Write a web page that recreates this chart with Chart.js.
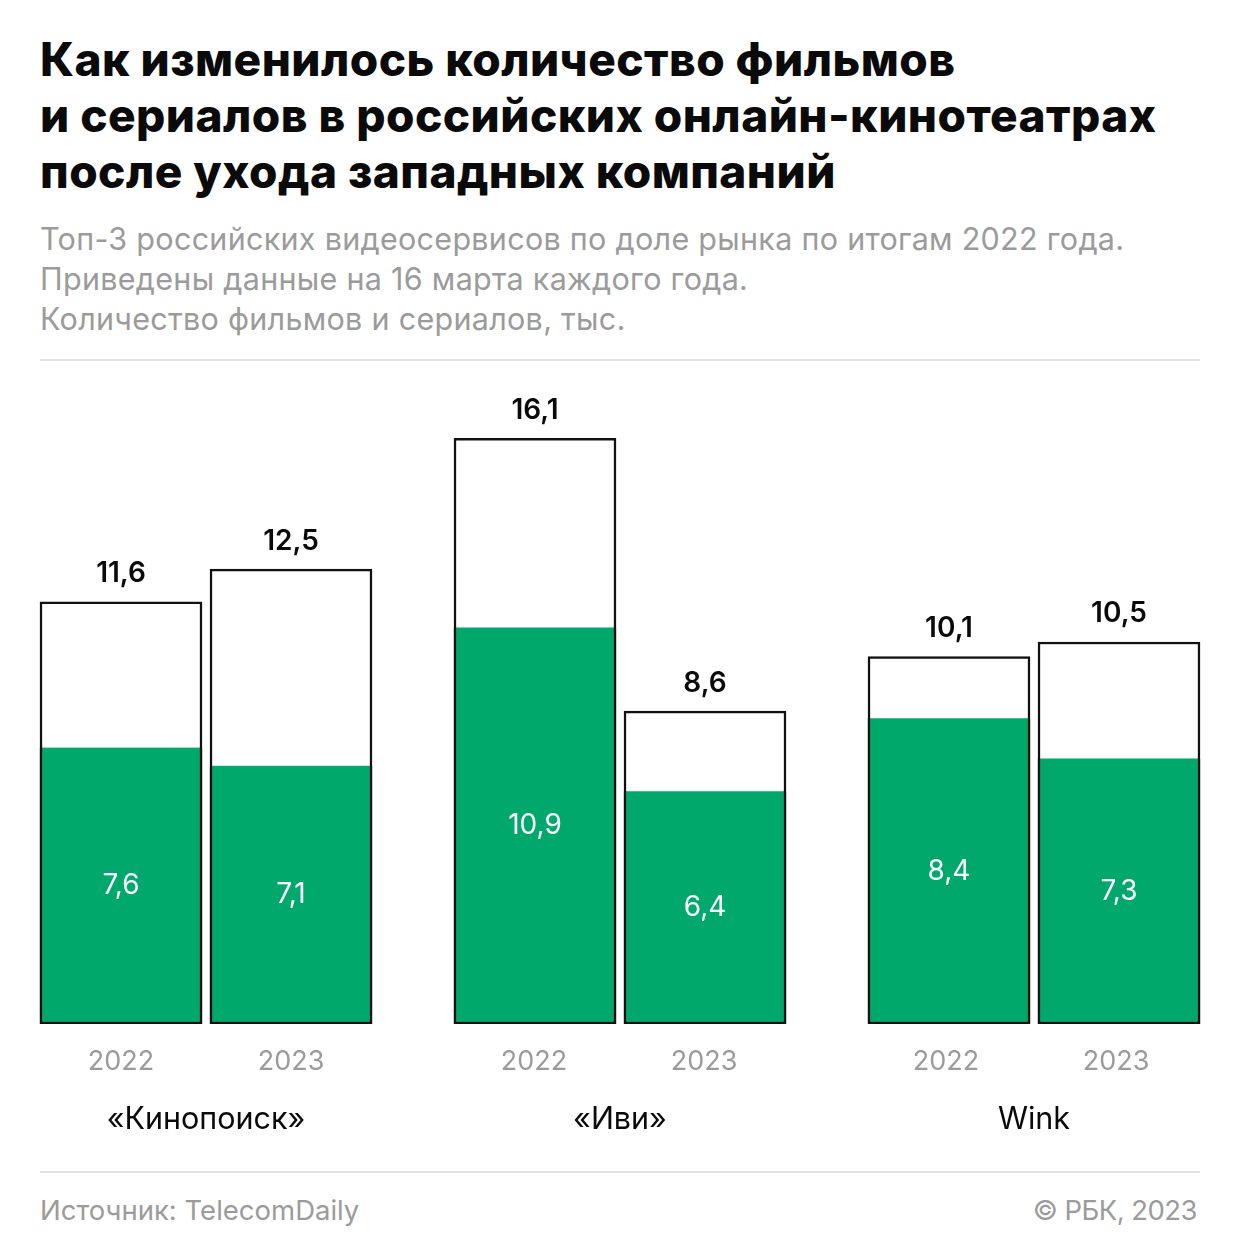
<!DOCTYPE html>
<html lang="ru">
<head>
<meta charset="utf-8">
<title>Онлайн-кинотеатры</title>
<script src="https://cdn.jsdelivr.net/npm/chart.js@4"></script>
<style>
    html, body { margin: 0; padding: 0; background: #fff; }
    body { position: relative; width: 1240px; height: 1260px; overflow: hidden; font-family: Inter, sans-serif; }
    h1 { position: absolute; left: 40px; top: 31px; margin: 0; font-size: 46px; line-height: 56px; font-weight: 800; color: #0a0a0a; letter-spacing: 0.45px; white-space: nowrap; }
    .sub { position: absolute; left: 40px; top: 219px; font-size: 30.5px; line-height: 40px; color: #9b9b9b; font-weight: 400; letter-spacing: 0.29px; white-space: nowrap; }
    .rule { position: absolute; left: 40px; width: 1160px; height: 2px; background: #e3e3e3; }
    .foot { position: absolute; top: 1193px; font-size: 27.5px; line-height: 34px; color: #9b9b9b; white-space: nowrap; }
    canvas { position: absolute; top: 380px; }
</style>
</head>
<body>
<h1>Как изменилось количество фильмов<br>и сериалов в российских онлайн-кинотеатрах<br>после ухода западных компаний</h1>
<div class="sub">Топ-3 российских видеосервисов по доле рынка по итогам 2022 года.<br>Приведены данные на 16 марта каждого года.<br>Количество фильмов и сериалов, тыс.</div>
<div class="rule" style="top:359px"></div>

<canvas id="chart0" width="340" height="771" style="left:36px"></canvas>
<canvas id="chart1" width="340" height="771" style="left:450px"></canvas>
<canvas id="chart2" width="340" height="771" style="left:864px"></canvas>

<div class="rule" style="top:1171px"></div>
<div class="foot" style="left:40px">Источник: TelecomDaily</div>
<div class="foot" style="right:43px; letter-spacing:-0.55px">© РБК, 2023</div>

<script>
const years = ["2022", "2023"];
const services = ["«Кинопоиск»", "«Иви»", "Wink"];
const totals = [[11.6, 12.5], [16.1, 8.6], [10.1, 10.5]];
const greens = [[7.6, 7.1], [10.9, 6.4], [8.4, 7.3]];

const GREEN = "#00a86b";
const INK = "#111111";
const GREY = "#9b9b9b";
const Y_MAX = 17.7;
const tickShift = [0, -1, -3]; // year labels sit a bit left of the bar centre in the last groups

function fmt(v) {
    return v.toFixed(1).replace(".", ",");
}

// value labels: totals above the bar, green values in the middle of the green part
const valueLabels = {
    id: "valueLabels",
    afterDatasetsDraw(chart) {
        const ctx = chart.ctx;
        ctx.save();
        ctx.textAlign = "center";
        ctx.textBaseline = "middle";

        chart.getDatasetMeta(0).data.forEach((bar, i) => {
            ctx.fillStyle = "#ffffff";
            ctx.font = "400 28px Inter";
            ctx.fillText(fmt(chart.data.datasets[0].data[i]), bar.x, (bar.y + bar.base) / 2);
        });
        chart.getDatasetMeta(1).data.forEach((bar, i) => {
            ctx.fillStyle = "#0a0a0a";
            ctx.font = "600 28px Inter";
            ctx.fillText(fmt(chart.data.datasets[1].data[i]), bar.x, bar.y - 28);
        });
        ctx.restore();
    }
};

services.forEach((name, idx) => {
    new Chart(document.getElementById("chart" + idx), {
        type: "bar",
        data: {
            labels: years,
            datasets: [
                {
                    label: "green",
                    data: greens[idx],
                    backgroundColor: GREEN,
                    borderColor: INK,
                    borderWidth: { top: 0, left: 2.5, right: 2.5, bottom: 2.5 },
                    borderSkipped: false,
                    barThickness: 162
                },
                {
                    label: "total",
                    data: totals[idx],
                    backgroundColor: "#ffffff",
                    borderColor: INK,
                    borderWidth: 2.5,
                    borderSkipped: false,
                    barThickness: 162
                }
            ]
        },
        options: {
            responsive: false,
            animation: false,
            layout: { padding: 0 },
            plugins: { legend: { display: false }, tooltip: { enabled: false } },
            scales: {
                x: {
                    stacked: true,
                    grid: { display: false },
                    border: { display: false },
                    afterFit: scale => { scale.height = 127; },
                    ticks: { color: GREY, font: { family: "Inter", size: 27 }, padding: 14, maxRotation: 0, labelOffset: tickShift[idx] },
                    title: {
                        display: true,
                        text: name,
                        color: "#0a0a0a",
                        font: { family: "Inter", size: 30.5 },
                        padding: { top: 20, bottom: 13 }
                    }
                },
                y: { display: false, min: 0, max: Y_MAX }
            }
        },
        plugins: [valueLabels]
    });
});
</script>
</body>
</html>
